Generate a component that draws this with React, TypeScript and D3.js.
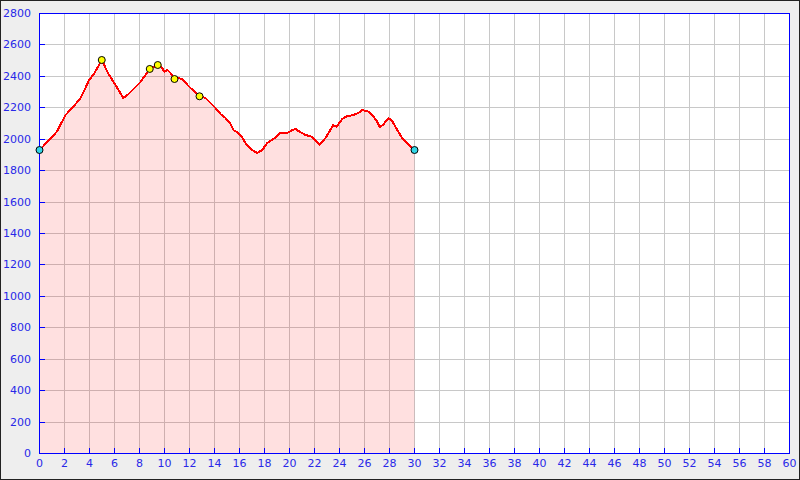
import React from "react";
import * as d3 from "d3";

const profileKm = [0, 1.02, 1.42, 2.08, 2.62, 3.28, 3.68, 3.92, 4.4, 4.98, 5.52, 6.08, 6.7, 7.04, 8.08, 8.82, 9.12, 9.46, 9.74, 10.0, 10.24, 10.48, 10.8, 11.12, 11.52, 11.84, 12.08, 12.4, 12.8, 13.28, 13.68, 14.08, 14.48, 14.88, 15.28, 15.52, 15.92, 16.24, 16.48, 16.88, 17.42, 17.82, 18.22, 18.72, 19.28, 19.82, 20.22, 20.48, 20.8, 21.28, 21.76, 22.08, 22.4, 22.88, 23.5, 23.76, 24.22, 24.48, 25.12, 25.52, 25.82, 26.32, 26.72, 27.02, 27.22, 27.52, 27.92, 28.22, 28.62, 29.02, 29.52, 30.0];
const profileElev = [1928, 2011, 2049, 2151, 2195, 2259, 2323, 2367, 2418, 2501, 2412, 2342, 2259, 2278, 2361, 2444, 2456, 2469, 2458, 2426, 2437, 2418, 2380, 2386, 2374, 2342, 2323, 2299, 2270, 2259, 2227, 2195, 2157, 2132, 2094, 2055, 2036, 2005, 1973, 1935, 1909, 1928, 1973, 1998, 2038, 2036, 2055, 2062, 2045, 2024, 2013, 1987, 1960, 2005, 2087, 2076, 2125, 2140, 2151, 2164, 2183, 2172, 2140, 2108, 2073, 2092, 2130, 2113, 2055, 2003, 1964, 1928];

const waypointKm = [4.98, 8.82, 9.46, 10.8, 12.8];
const waypointElev = [2501, 2444, 2469, 2380, 2270];
const endpointKm = [0, 30];
const endpointElev = [1928, 1928];

const xTicks = d3.range(0, 61, 2);
const yTicks = d3.range(0, 2801, 200);

const W = 800;
const H = 480;
const L = 39;
const R = 789;
const T = 13;
const B = 453;

export default function App() {
  const x = d3.scaleLinear().domain([0, 60]).range([L, R]);
  const y = d3.scaleLinear().domain([0, 2800]).range([B, T]);
  const pts: [number, number][] = profileKm.map((k, i) => [k, profileElev[i]]);
  const line = d3.line<[number, number]>().x((d) => x(d[0]) + 0.5).y((d) => y(d[1]));
  const area = d3
    .area<[number, number]>()
    .x((d) => x(d[0]) + 0.5)
    .y0(y(0))
    .y1((d) => y(d[1]));
  const px = (v: number) => Math.round(x(v)) + 0.5;
  const py = (v: number) => Math.round(y(v)) + 0.5;
  const blue = "#0000ff";
  const textBlue = "#2828e8";
  const font = "DejaVu Sans, sans-serif";
  return (
    <svg
      width={W}
      height={H}
      style={{ position: "absolute", left: 0, top: 0, display: "block" }}
    >
      <rect x={0.5} y={0.5} width={W - 1} height={H - 1} fill="#eeeeee" stroke="#222222" />
      <rect x={L} y={T} width={R - L} height={B - T} fill="#ffffff" />
      <g stroke="#c8c8c8" strokeWidth={1} shapeRendering="crispEdges">
        {xTicks.map((t) => (
          <line key={"gx" + t} x1={px(t)} x2={px(t)} y1={T} y2={B} />
        ))}
        {yTicks.map((t) => (
          <line key={"gy" + t} x1={L} x2={R} y1={py(t)} y2={py(t)} />
        ))}
      </g>
      <path d={area(pts) || ""} fill="rgba(255,0,0,0.12)" stroke="none" />
      <path
        d={line(pts) || ""}
        fill="none"
        stroke="#ff0000"
        strokeWidth={2}
        strokeLinejoin="round"
        shapeRendering="crispEdges"
      />
      <g stroke={blue} strokeWidth={1} shapeRendering="crispEdges" fill="none">
        <rect x={L + 0.5} y={T + 0.5} width={R - L} height={B - T} />
        {xTicks.map((t) => (
          <line key={"tx" + t} x1={px(t)} x2={px(t)} y1={B - 5} y2={B} />
        ))}
        {yTicks.map((t) => (
          <line key={"ty" + t} x1={L} x2={L + 6} y1={py(t)} y2={py(t)} />
        ))}
      </g>
      <g fontFamily={font} fontSize={11} fill={textBlue}>
        {xTicks.map((t) => (
          <text key={"lx" + t} x={x(t) + 0.5} y={B + 14} textAnchor="middle">
            {t}
          </text>
        ))}
        {yTicks.map((t) => (
          <text key={"ly" + t} x={31} y={y(t) + 4} textAnchor="end">
            {t}
          </text>
        ))}
      </g>
      {waypointKm.map((k, i) => (
        <circle
          key={"w" + i}
          cx={x(k) + 0.5}
          cy={y(waypointElev[i])}
          r={3.5}
          fill="#ffff00"
          stroke="#000000"
          strokeWidth={1}
        />
      ))}
      {endpointKm.map((k, i) => (
        <circle
          key={"e" + i}
          cx={x(k) + 0.5}
          cy={y(endpointElev[i])}
          r={3.5}
          fill="#33d6e6"
          stroke="#000000"
          strokeWidth={1}
        />
      ))}
    </svg>
  );
}
